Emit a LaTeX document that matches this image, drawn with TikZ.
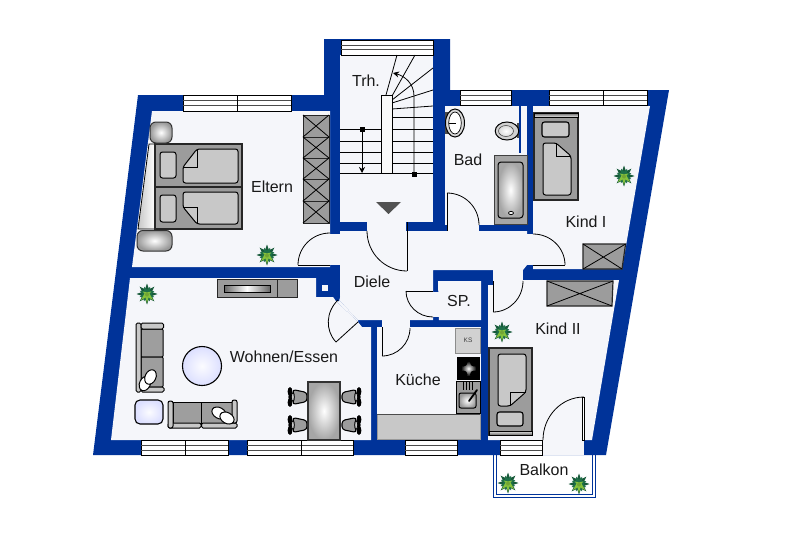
\documentclass[tikz,border=0pt]{standalone}
\usepackage{fontspec}
\setmainfont{Liberation Sans}
\usetikzlibrary{calc,arrows.meta}
\definecolor{wallblue}{HTML}{003399}
\definecolor{roomfill}{HTML}{F5F6FA}
\definecolor{furngray}{HTML}{9C9C9C}
\definecolor{lightgray2}{HTML}{C8C8C8}
\definecolor{tablefill}{HTML}{DCDFFF}
\definecolor{leafdark}{HTML}{1E7048}
\definecolor{leaflight}{HTML}{86C23C}
\tikzset{
  room/.style={fill=roomfill,draw=none},
  wall/.style={fill=wallblue,draw=none},
  windowbox/.style={fill=white,draw=black,line width=0.8pt},
  windowline/.style={draw=black!70,line width=0.6pt},
  furn/.style={fill=furngray,draw=black!85,line width=1pt},
  soft/.style={fill=lightgray2,draw=black,line width=1pt,rounded corners=2.5pt},
  doorleaf/.style={draw=black,line width=0.8pt},
  label/.style={font=\fontsize{16}{16}\selectfont,text=black!90,inner sep=0pt},
  plant/.pic={
    \foreach \a in {0,45,...,315} {\fill[leafdark!80!black,rotate=\a] (0,-10.5)--(2.6,-3)--(-2.6,-3)--cycle;}
    \foreach \a in {22,67,...,337} {\fill[leafdark,rotate=\a] (0,-8)--(2.4,-2)--(-2.4,-2)--cycle;}
    \fill[leafdark] (0,0) circle (4.5);
    \foreach \a in {135,180,225} {\fill[leaflight,rotate=\a] (0,-9)--(2,-1.5)--(-2,-1.5)--cycle;}
    \foreach \a in {60,300} {\fill[leaflight,rotate=\a] (0,-5)--(1.4,-1)--(-1.4,-1)--cycle;}
    \fill[leaflight!85!black] (0,0.5) circle (2);
  }
}
\newcommand{\qarc}[6]{\draw[doorleaf] (#1,#2) .. controls ($(#1,#2)+0.5523*(#3,#4)-0.5523*(#5,#6)$) and ($(#3,#4)+0.5523*(#1,#2)-0.5523*(#5,#6)$) .. (#3,#4);}
\newcommand{\winbox}[4]{% x1 y1 x2 y2
  \draw[windowbox] (#1,#2) rectangle (#3,#4);
  \draw[windowline] (#1,{#2+5.5}) -- (#3,{#2+5.5}) (#1,{#2+10}) -- (#3,{#2+10});
}
\newcommand{\windiv}[3]{\draw[black,line width=0.9pt] (#1,#2) -- (#1,#3);}
\newcommand{\xbox}[4]{\draw[furn] (#1,#2) rectangle (#3,#4); \draw[black,line width=0.8pt] (#1,#2) -- (#3,#4) (#1,#4) -- (#3,#2);}
\newcommand{\chairshape}[3]{\begin{scope}[shift={(#1,#2)},xscale=#3]
  \fill[black] (-8,-5.5) ellipse (2.4 and 4.4);
  \fill[black] (-8,5.5) ellipse (2.4 and 4.4);
  \fill[black] (-8,0) ellipse (1.6 and 4);
  \draw[fill=furngray,draw=black,line width=1.1pt,rounded corners=3pt] (-5.5,-7.5) -- (9,-4.5) -- (9,4.5) -- (-5.5,7.5) -- (-3.5,0) -- cycle;
  \draw[fill=lightgray2,draw=black,line width=0.8pt] (-5.2,0) ellipse (1.5 and 4.2);
\end{scope}}
\newcommand{\cushion}[3]{\draw[fill=white,draw=black,line width=1pt,rotate around={#3:(#1,#2)}] (#1,#2) ellipse (7.6 and 5.4);}
\begin{document}
\begin{tikzpicture}[x=1pt,y=-1pt]
\useasboundingbox (0,0) rectangle (800,533);
\fill[white] (0,0) rectangle (800,533);
% balcony
\draw[wallblue,line width=0.9pt,fill=white] (493.3,450) -- (493.3,497) -- (595,497) -- (595,450);
\draw[wallblue,line width=0.9pt] (496.3,450) -- (496.3,494.5) -- (592.2,494.5) -- (592.2,450);
% outer walls
\fill[wall] (138,95) -- (324,95) -- (324,39) -- (450,39) -- (450,90) -- (669,90) -- (606,455) -- (93,455) -- cycle;
% rooms
\fill[room] (340,55) rectangle (433,222);
\fill[room] (152,111) -- (330,111) -- (330,267) -- (132,267) -- cycle;
\fill[room] (445,106) rectangle (527,225);
\fill[room] (533,106) -- (650,106) -- (622,269) -- (533,269) -- (533,265) -- cycle;
\fill[room] (340,231) -- (527,231) -- (527,265) -- (523,270) -- (433,270) -- (433,320) -- (358,320) -- (339,300) -- (340,297) -- cycle;
\fill[room] (438,281) -- (481,281) -- (481,320) -- (439,320) -- cycle;
\fill[room] (377,327) rectangle (481,440);
\fill[room] (493,280) -- (619,280) -- (592,440) -- (488,440) -- (488,285) -- (493,285) -- cycle;
\fill[room] (130,278) -- (316,278) -- (316,297) -- (333,297) -- (336,301) -- (358,322) -- (362,327) -- (371,327) -- (371,440) -- (111,440) -- cycle;
% door openings
\fill[room] (329,234) rectangle (341,265);
\fill[room] (367,221) rectangle (406,232);
\fill[room] (447,224) rectangle (479,232);
\fill[room] (526,234) rectangle (534,265);
\fill[room] (493,269) rectangle (523,282);
\fill[room] (432,292) rectangle (440,317);
\fill[room] (382,319) rectangle (410,328);
\fill[room] (336,301) -- (339,300) -- (358,320) -- (358,322) -- cycle;
\fill[room] (542,439) rectangle (584,455);
\fill[room] (322,285) rectangle (328,291);
\fill[wall] (334,296) -- (340,296) -- (339,301) -- (336,301) -- cycle;
% shaft in bath
\fill[wallblue] (519,106) rectangle (521,153);
% windows
\winbox{183}{95}{291}{111} \windiv{237}{95}{111}
\draw[windowbox] (341,40) rectangle (433,55);
\draw[windowline] (341,45) -- (433,45) (341,49) -- (433,49);
\winbox{460}{90}{511}{105}
\winbox{549}{90}{647}{105} \windiv{603}{90}{105}
\winbox{141}{440}{228}{455} \windiv{185}{440}{455}
\winbox{247}{440}{353}{455} \windiv{301}{440}{455}
\winbox{405}{440}{457}{455}
\winbox{500}{440}{542}{455}
% stairs
\draw[black,line width=0.8pt] (340,129) -- (381,129) (340,141) -- (381,141) (340,152) -- (381,152) (340,163) -- (381,163);
\draw[black,line width=0.8pt] (392,117) -- (433,117) (392,129) -- (433,129) (392,141) -- (433,141) (392,152) -- (433,152) (392,163) -- (433,163);
\draw[black,line width=1pt] (340,173) -- (433,173);
\draw[black,line width=0.8pt] (386,95) -- (397,55) (392,96) -- (415,55) (392,100) -- (433,68) (392,103) -- (433,90) (392,109) -- (433,106);
\draw[fill=white!96!gray,draw=black,line width=0.8pt] (381,95) rectangle (392,173);
\draw[black,line width=0.8pt,-{Stealth[length=6pt,width=6pt]}] (414,174) -- (414,96) .. controls (414,84) and (405,76) .. (393,73);
\fill[black] (411.5,171.5) rectangle (416.5,176.5);
\draw[black,line width=0.8pt,-{Stealth[length=6pt,width=6pt]}] (362,129) -- (362,173);
\fill[black] (359.5,126.5) rectangle (364.5,131.5);
\fill[black!68] (376,202) -- (401,202) -- (388.5,214) -- cycle;
% doors
\qarc{330}{233}{298}{265}{330}{265} \draw[doorleaf] (298,265) -- (330,265);
\qarc{367}{231}{407}{271}{407}{231} \draw[doorleaf] (407,222) -- (407,271);
\qarc{447}{193}{479}{225}{447}{225} \draw[doorleaf] (447,193) -- (447,231);
\qarc{533}{234}{565}{265}{533}{265} \draw[doorleaf] (533,265) -- (565,265);
\qarc{493}{312}{523}{281}{493}{281} \draw[doorleaf] (493,281) -- (493,312);
\qarc{406}{291}{433}{317}{433}{291} \draw[doorleaf] (406,291) -- (433,291);
\qarc{382}{356}{410}{328}{382}{328} \draw[doorleaf] (382,327) -- (382,356);
\qarc{338}{300}{336}{342}{358}{321} \draw[doorleaf] (336,342) -- (358,322);
\qarc{584}{397}{543}{440}{584}{440} \draw[doorleaf,fill=white] (582,397) rectangle (584.5,440);
% Eltern furniture
\draw[furn] (303,115) rectangle (329,223);
\foreach \ya/\yb in {115/137,137/158,158/179,179/201,201/223} {\xbox{303}{\ya}{329}{\yb}}
\draw[left color=black!22,right color=white,draw=black,line width=0.8pt] (149,144) -- (155,144) -- (155,229) -- (138,229) -- cycle;
\draw[furn,line width=1.1pt] (155,144) rectangle (242,187);
\draw[furn,line width=1.1pt] (155,187) rectangle (242,229);
\draw[soft] (160,152) rectangle (176,178);
\draw[soft] (160,195) rectangle (176,222);
\draw[soft] (197,149) -- (238,149) -- (238,183) -- (183,183) -- (183,167) -- cycle;
\draw[black,line width=1pt] (197,149) -- (197,167) -- (183,167);
\draw[soft] (183,192) -- (238,192) -- (238,224) -- (197,224) -- (183,207) -- cycle;
\draw[black,line width=1pt] (183,207) -- (197,207) -- (197,224);
\draw[inner color=white,outer color=black!40,draw=black!80,line width=1pt,rounded corners=6pt] (150,122) rectangle (172,143);
\draw[inner color=white,outer color=black!40,draw=black!80,line width=1pt,rounded corners=6pt] (137,230.5) rectangle (172,251);
% Bath
\draw[fill=black!35,draw=black!75,line width=1pt] (494,155) rectangle (527,224);
\draw[inner color=white,outer color=black!35,draw=black,line width=1pt,rounded corners=3pt] (498,162) rectangle (523,218);
\draw[fill=white,draw=black,line width=0.8pt] (511,213) ellipse (2.5 and 1.6);
% Toilet and basin
\fill[black!70] (517,123) rectangle (519,138);
\draw[fill=black!18,draw=black,line width=1pt] (507,131) ellipse (11.8 and 9);
\draw[inner color=white,outer color=black!15,draw=black!70,line width=0.6pt] (506,131) ellipse (7.5 and 5.5);
\fill[black!70] (445,112) rectangle (448,134);
\draw[fill=black!15,draw=black,line width=1pt] (455,123) ellipse (9.5 and 14);
\draw[fill=white,draw=black,line width=0.7pt] (455,123) ellipse (6.3 and 11);
\draw[black,line width=0.7pt] (449,123) -- (456,123);
% Kind I
\draw[furn,line width=1.2pt] (534,113) rectangle (578,200);
\draw[top color=black!60,bottom color=black!10,draw=black,line width=0.8pt] (534,113) rectangle (578,117);
\draw[soft,line width=1.1pt] (542,122) rectangle (569,137);
\draw[soft] (543,143) -- (556,143) -- (571,156) -- (571,195) -- (543,195) -- cycle;
\draw[black,line width=1pt] (556,143) -- (556,156) -- (571,156);
\draw[furn,line width=1.2pt] (583,244) -- (625.6,244) -- (622,269) -- (583,269) -- cycle;
\draw[black,line width=0.8pt] (583,244) -- (622,269) (583,269) -- (625.6,244);
% Kind II
\draw[furn,line width=1.2pt] (547,281) -- (613,281) -- (612,306) -- (547,306) -- cycle;
\draw[black,line width=0.8pt] (547,281) -- (612,306) (547,306) -- (613,281);
\draw[furn,line width=1.2pt] (489,348) rectangle (532,435);
\draw[top color=black!10,bottom color=black!60,draw=black,line width=0.8pt] (489,431) rectangle (532,435);
\draw[soft] (498,354) -- (526,354) -- (526,392) -- (510,406) -- (498,406) -- cycle;
\draw[black,line width=1pt] (526,392) -- (510,392) -- (510,406);
\draw[soft,line width=1.1pt] (497,412) rectangle (523,426);
% Kitchen
\draw[fill=lightgray2,draw=black!40,line width=1pt] (377,414) rectangle (480.5,439);
\draw[black!70,line width=0.8pt] (377,414) -- (480,414);
\draw[fill=black!18,draw=black!45,line width=1pt] (455,328) rectangle (480,353);
\node[name=ks,font=\fontsize{6.5}{7}\selectfont,inner sep=0pt,text=black!75] at (468,340.5) {KS};
\fill[black] (457,357) rectangle (480,380);
\fill[inner color=white,outer color=black] (468.5,368.5) circle (7.5);
\foreach \cx/\cy in {463.5/362.5,474/362.5,463.5/374.5,474/374.5} {\fill[black] (\cx,\cy) circle (4);}
\draw[fill=furngray,draw=black,line width=0.9pt] (456,381) rectangle (480,413.5);
\draw[inner color=white,outer color=black!40,draw=black,line width=1pt,rounded corners=2pt] (459,393) rectangle (476,408);
\draw[black,line width=0.9pt] (463,382) -- (463,390) (466,382) -- (466,390) (469,382) -- (469,390) (472,382) -- (472,390);
\draw[black,line width=1.8pt,line cap=round] (469,401) -- (477,390);
% Wohnen furniture
\draw[furn] (217,279) rectangle (277,297);
\draw[furn] (277,279) rectangle (297,297);
\draw[left color=black!60,right color=black!60,middle color=white,draw=black,line width=0.9pt] (224,285) rectangle (270,292);
\draw[inner color=white!90!tablefill,outer color=tablefill,draw=black,line width=1.1pt] (202,366) circle (19.5);
\draw[inner color=white!90!tablefill,outer color=tablefill,draw=black,line width=1.1pt,rounded corners=5pt] (135,400) rectangle (163,424);
% sofa vertical
\draw[fill=black!38,draw=black,line width=1pt,rounded corners=1pt] (141,329) rectangle (163,357);
\draw[fill=black!38,draw=black,line width=1pt,rounded corners=1pt] (141,357) rectangle (163,387);
\draw[fill=lightgray2,draw=black,line width=1pt,rounded corners=1.5pt] (136,323) rectangle (141,392);
\draw[fill=lightgray2,draw=black,line width=1pt,rounded corners=1.5pt] (141,323) rectangle (163.5,329);
\draw[fill=lightgray2,draw=black,line width=1pt,rounded corners=1.5pt] (141,387) rectangle (164,392);
\cushion{145}{383.5}{65} \cushion{150.5}{377}{65}
% sofa horizontal
\draw[fill=black!38,draw=black,line width=1pt] (173,402) rectangle (201.5,423);
\draw[fill=black!38,draw=black,line width=1pt] (201.5,402) rectangle (232,423);
\draw[fill=lightgray2,draw=black,line width=1pt,rounded corners=1.5pt] (168,423) rectangle (201,428);
\draw[fill=lightgray2,draw=black,line width=1pt,rounded corners=1.5pt] (201.5,423) rectangle (237,428);
\draw[fill=lightgray2,draw=black,line width=1pt,rounded corners=2pt] (168,401) rectangle (173,428);
\draw[fill=lightgray2,draw=black,line width=1pt,rounded corners=2pt] (232,400) rectangle (237,423);
\cushion{219}{413}{-30} \cushion{227}{418}{-30}
% dining
\chairshape{298}{397}{1} \chairshape{298}{425}{1}
\chairshape{351}{397}{-1} \chairshape{351}{425}{-1}
\draw[inner color=white,outer color=black!35,draw=black!80,line width=1.1pt] (308,382) rectangle (340,440);
% plants
\pic at (267,255) {plant};
\pic at (147,294) {plant};
\pic at (624,176) {plant};
\pic at (502,332) {plant};
\pic at (508,483) {plant};
\pic at (579,484) {plant};
% labels
\node[label,name=ltrh] at (366,81) {Trh.};
\node[label,name=leltern] at (272,187) {Eltern};
\node[label,name=lbad] at (468,160) {Bad};
\node[label,name=lkind1] at (586,222) {Kind I};
\node[label,name=ldiele] at (372,282) {Diele};
\node[label,name=lsp] at (459,301) {SP.};
\node[label,name=lkind2] at (558,329) {Kind II};
\node[label,name=lwohnen] at (284,357) {Wohnen/Essen};
\node[label,name=lkueche] at (418,380) {Küche};
\node[label,name=lbalkon] at (544,470) {Balkon};
\end{tikzpicture}
\end{document}
